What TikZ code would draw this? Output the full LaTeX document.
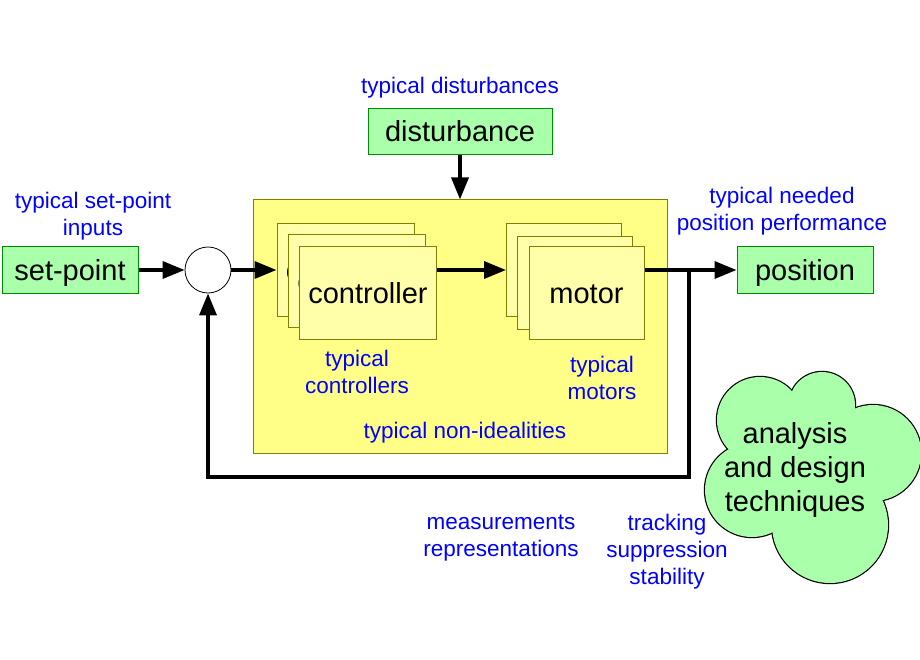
\documentclass[tikz,border=0pt]{standalone}
\usepackage{fontspec}
\setmainfont{Liberation Sans}
\usetikzlibrary{arrows.meta}
\definecolor{gfill}{RGB}{170,255,170}
\definecolor{gline}{RGB}{0,140,0}
\definecolor{yfill}{RGB}{255,255,136}
\definecolor{cfill}{RGB}{255,255,170}
\definecolor{oline}{RGB}{128,128,0}
\definecolor{tblue}{RGB}{0,0,255}
\newcommand{\bigfont}{\fontsize{29}{34}\selectfont}
\newcommand{\smallfont}{\fontsize{22.5}{27}\selectfont}
\begin{document}
\begin{tikzpicture}[x=1pt,y=-1pt,
  greenbox/.style={draw=gline,fill=gfill,line width=1pt,inner sep=0pt,font=\bigfont,text height=25.8pt,text depth=5.8pt},
  card/.style={draw=oline,fill=cfill,line width=1pt,inner sep=0pt,minimum height=92pt,font=\bigfont,text height=25.8pt,text depth=5.8pt},
  lbl/.style={text=tblue,font=\smallfont,align=center,inner sep=0pt},
  arr/.style={line width=3.5pt,-{Triangle[length=22pt,width=17pt]}},
  plain/.style={line width=3.5pt}]
\useasboundingbox (0,0) rectangle (920,660);
% main yellow box
\node[draw=oline,fill=yfill,line width=1pt,minimum width=414pt,minimum height=253pt,inner sep=0pt] (big) at (460,326.5) {};
% green boxes
\node[greenbox,minimum width=184pt,minimum height=46pt] (dist) at (460,132) {disturbance};
\node[greenbox,minimum width=136pt,minimum height=46pt] (sp) at (70,270) {set-point};
\node[greenbox,minimum width=136pt,minimum height=46pt] (pos) at (805,270) {position};
% summing junction
\node[draw,circle,fill=white,line width=0.8pt,minimum size=46pt,inner sep=0pt] (sum) at (208,270) {};
% controller cards
\node[card,minimum width=137pt] (cb) at (345.5,270) {controller};
\node[card,minimum width=137pt] (cm) at (357,281) {controller};
\node[card,minimum width=137pt] (cf) at (368,293) {controller};
% motor cards
\node[card,minimum width=115pt] (mb) at (564,270) {};
\node[card,minimum width=115pt] (mm) at (575,283) {};
\node[card,minimum width=115pt] (mf) at (586.5,293) {motor};
% labels
\node[lbl] (l1) at (460,88) {typical disturbances};
\node[lbl] (l2) at (93,216.5) {typical set-point\\inputs};
\node[lbl] (l3) at (782,211.5) {typical needed\\position performance};
\node[lbl] (l4) at (357,372) {typical\\controllers};
\node[lbl] (l5) at (602,377.5) {typical\\motors};
\node[lbl] (l6) at (465,433) {typical non-idealities};
\node[lbl] (l7) at (501,538.5) {measurements\\representations};
\node[lbl] (l8) at (667,552) {tracking\\suppression\\stability};
% connectors
\coordinate (j) at (689,270);
\coordinate (fb) at (689,477);
\draw[arr] (sp.east) -- (sum.west);
\draw[arr] (sum.east) -- (cb.west);
\draw[arr] (cf.east |- cb.west) -- (mb.west);
\draw[arr] (mf.east |- pos.west) -- (pos.west);
\draw[arr] (dist.south) -- (dist.south |- big.north);
\draw[arr] (j) -- (fb) -| (sum.south);
% cloud
\foreach \cx/\cy/\r in {822/405/33, 760/420/43, 752/490/47, 830/525/58, 873/453/48}
  \draw[line width=2.4pt] (\cx,\cy) circle[radius=\r];
\foreach \cx/\cy/\r in {822/405/33, 760/420/43, 752/490/47, 830/525/58, 873/453/48, 815/465/50}
  \fill[gfill] (\cx,\cy) circle[radius=\r];
\node[font=\bigfont,align=center,inner sep=0pt] (cloud) at (795,470) {analysis\\and design\\techniques};
\end{tikzpicture}
\end{document}
